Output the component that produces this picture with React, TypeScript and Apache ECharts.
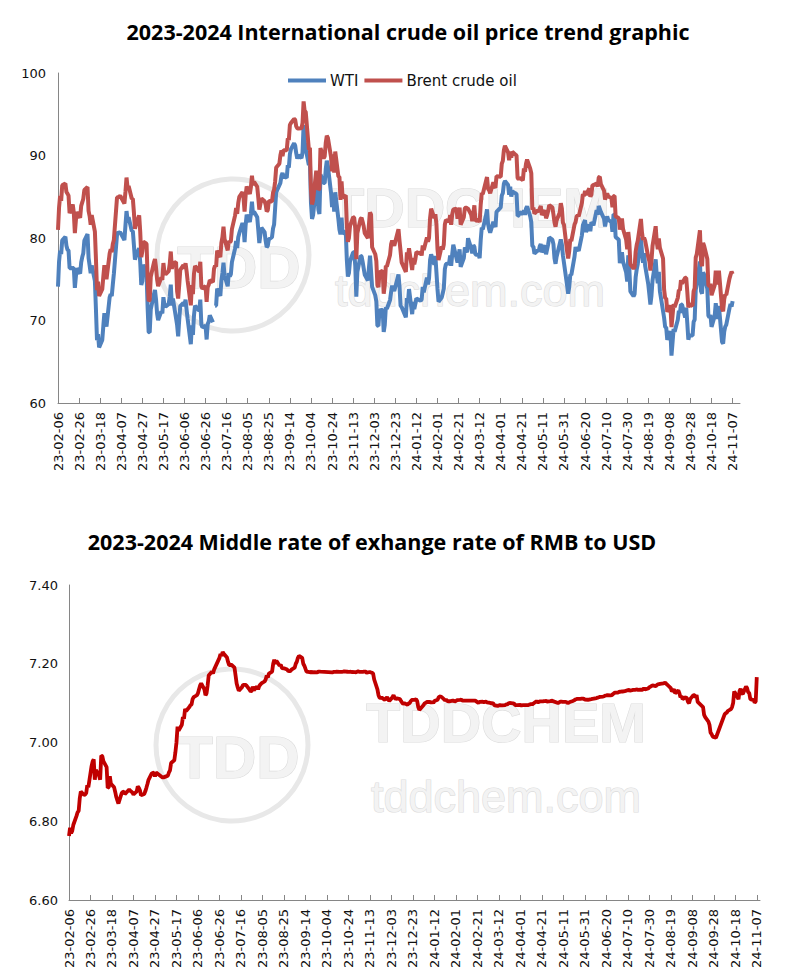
import React, { useEffect, useRef } from 'react';
import * as echarts from 'echarts';

// ---------- categories (calendar days from 23-02-06) ----------
const START_Y = 2023, START_M = 1, START_D = 6; // 2023-02-06 (Monday)
const TOP_DAYS = 648;    // 23-02-06 .. 24-11-14
const BOTTOM_DAYS = 644; // 23-02-06 .. 24-11-10
const LABEL_EVERY = 20;  // a tick label every 20 days

function dayLabel(i: number): string {
  const d = new Date(Date.UTC(START_Y, START_M, START_D + i));
  const yy = String(d.getUTCFullYear()).slice(2);
  const mm = String(d.getUTCMonth() + 1).padStart(2, '0');
  const dd = String(d.getUTCDate()).padStart(2, '0');
  return `${yy}-${mm}-${dd}`;
}
const topDates: string[] = Array.from({ length: TOP_DAYS }, (_, i) => dayLabel(i));
const bottomDates: string[] = Array.from({ length: BOTTOM_DAYS }, (_, i) => dayLabel(i));

// ---------- series values: one row per week, Mon..Fri (null = no quote) ----------
const brentWeeks: (number | null)[][] = [
  [80.99, 83.69, 85.09, 84.50, 86.39],
  [86.61, 85.58, 85.38, 85.14, 83.00],
  [84.07, 83.05, 80.60, 82.21, 83.16],
  [82.45, 83.89, 84.31, 84.75, 85.83],
  [86.18, 83.29, 82.66, 81.59, 82.78],
  [80.77, 77.45, 73.69, 74.70, 72.97],
  [73.79, 75.32, 76.69, 75.91, 74.99],
  [78.12, 78.65, 78.28, 79.27, 79.77],
  [84.93, 84.94, 84.99, 85.12, null],
  [84.18, 85.61, 87.33, 86.09, 86.31],
  [84.76, 84.77, 83.12, 81.10, 81.66],
  [82.73, 80.77, 77.69, 78.37, 79.54],
  [79.31, 75.32, 72.33, 72.50, 75.30],
  [77.01, 77.44, 76.41, 74.98, 74.17],
  [75.23, 74.91, 76.96, 75.86, 75.58],
  [75.99, 76.84, 78.36, 76.26, 76.95],
  [77.07, 73.54, 72.66, 74.28, 76.13],
  [76.71, 76.29, 76.95, 75.96, 74.79],
  [71.84, 74.29, 73.20, 75.67, 76.61],
  [76.09, 75.90, 77.12, 74.14, 73.85],
  [74.18, 72.26, 74.03, 74.34, 74.90],
  [74.65, 76.25, 76.65, 76.52, 78.47],
  [77.69, 79.40, 80.11, 81.36, 79.87],
  [78.50, 79.63, 79.46, 79.64, 81.07],
  [82.74, 83.64, 82.92, 84.24, 84.99],
  [85.56, 84.91, 83.20, 85.14, 86.24],
  [85.34, 86.17, 87.55, 86.40, 86.81],
  [86.21, 84.89, 83.45, 84.12, 84.80],
  [84.46, 84.03, 83.21, 83.36, 84.48],
  [84.42, 85.49, 85.86, 86.86, 88.55],
  [89.00, 90.04, 90.60, 89.92, 90.65],
  [90.64, 92.06, 91.88, 93.70, 93.93],
  [94.43, 94.34, 93.53, 93.30, 93.27],
  [93.29, 93.96, 96.55, 95.38, 95.31],
  [90.71, 90.92, 85.81, 84.07, 84.58],
  [88.15, 87.65, 85.82, 86.00, 90.89],
  [89.65, 89.90, 91.50, 92.38, 92.16],
  [89.83, 88.07, 90.13, 87.93, 90.48],
  [87.45, 87.41, 84.63, 86.85, 84.89],
  [85.18, 81.61, 79.54, 80.01, 81.43],
  [82.52, 82.47, 81.18, 77.42, 80.61],
  [82.32, 82.45, 81.96, 81.42, 80.58],
  [79.98, 81.68, 83.10, 82.83, 78.88],
  [78.03, 77.20, 74.30, 74.05, 75.84],
  [76.03, 73.24, 74.26, 76.61, 76.55],
  [77.95, 79.23, 79.70, 79.39, 79.07],
  [null, 81.07, 79.65, 78.39, 77.04],
  [null, 75.89, 78.25, 77.59, 78.76],
  [76.12, 77.59, 76.80, 77.41, 78.29],
  [78.15, 78.29, 77.88, 79.10, 78.56],
  [80.06, 79.55, 80.04, 82.43, 83.55],
  [82.40, 82.87, 81.71, 78.70, 77.33],
  [78.99, 78.59, 79.21, 81.63, 82.19],
  [82.00, 82.77, 81.60, 82.86, 83.47],
  [83.56, 82.34, 83.03, 83.67, 81.62],
  [82.53, 83.65, 83.68, 83.62, 83.55],
  [82.80, 82.04, 82.96, 83.96, 82.08],
  [82.21, 81.92, 84.03, 85.42, 85.34],
  [86.89, 87.38, 85.95, 85.78, 85.43],
  [86.75, 86.25, 86.09, 87.48, null],
  [87.42, 89.00, 89.35, 90.65, 91.17],
  [90.38, 89.42, 90.48, 89.74, 90.45],
  [90.10, 90.02, 87.29, 87.11, 87.29],
  [87.00, 88.42, 88.02, 89.01, 89.50],
  [88.40, 87.86, 83.44, 83.67, 82.96],
  [83.33, 83.16, 83.58, 83.88, 82.79],
  [83.36, 82.38, 82.75, 83.27, 83.98],
  [83.71, 82.88, 81.90, 81.36, 82.12],
  [83.10, 84.22, 83.60, 81.86, 81.62],
  [78.36, 77.52, 78.41, 79.87, 79.62],
  [81.63, 81.92, 82.60, 82.75, 82.62],
  [84.25, 85.33, 85.07, 85.71, 85.24],
  [86.01, 85.01, 85.25, 86.39, 86.41],
  [86.60, 86.24, 87.34, 87.43, 86.54],
  [85.75, 84.66, 85.08, 85.40, 85.03],
  [84.85, 83.73, 85.08, 85.11, 82.63],
  [82.40, 81.01, 81.71, 82.37, 81.13],
  [79.78, 78.63, 80.72, 79.52, 76.81],
  [76.30, 76.48, 78.33, 79.16, 79.66],
  [82.30, 80.69, 79.76, 80.04, 79.68],
  [77.66, 77.20, 76.05, 77.22, 79.02],
  [81.43, 79.55, 78.65, 79.94, 78.80],
  [77.52, 73.75, 72.70, 72.69, 71.06],
  [71.84, 69.19, 70.61, 71.97, 71.61],
  [72.75, 73.70, 73.65, 74.88, 74.49],
  [75.17, 75.17, 73.46, 71.60, 71.98],
  [71.77, 73.56, 73.90, 77.62, 78.05],
  [80.93, 77.18, 76.58, 79.40, 79.04],
  [77.46, 74.25, 74.22, 74.45, 73.06],
  [74.29, 76.04, 74.96, 74.38, 76.05],
  [71.42, 71.12, 72.55, 73.16, 73.10],
  [75.08, 75.53, 75.92, 75.63],
];

const wtiWeeks: (number | null)[][] = [
  [74.11, 77.14, 78.47, 78.06, 79.72],
  [80.14, 79.06, 78.59, 78.49, 76.34],
  [null, 76.36, 73.95, 75.39, 76.32],
  [75.68, 77.05, 77.69, 78.16, 79.68],
  [80.46, 77.58, 76.66, 75.72, 76.68],
  [74.80, 71.33, 67.61, 68.35, 66.74],
  [67.64, 69.33, 70.90, 69.96, 69.26],
  [72.81, 73.20, 72.97, 74.37, 75.67],
  [80.42, 80.71, 80.61, 80.70, null],
  [79.74, 81.53, 83.26, 82.16, 82.52],
  [80.83, 80.86, 79.16, 77.37, 77.87],
  [78.76, 77.07, 74.30, 74.76, 76.78],
  [75.66, 71.66, 68.60, 68.56, 71.34],
  [73.16, 73.71, 72.56, 70.87, 70.04],
  [71.11, 70.86, 72.83, 71.86, 71.69],
  [71.99, 72.91, 74.34, 71.83, 72.67],
  [null, 69.46, 68.09, 70.10, 71.74],
  [72.15, 71.74, 72.53, 71.29, 70.17],
  [67.12, 69.42, 68.27, 70.62, 71.78],
  [null, 71.19, 72.53, 69.51, 69.16],
  [69.37, 67.70, 69.56, 69.86, 70.64],
  [69.79, null, 71.79, 71.80, 73.86],
  [72.99, 74.83, 75.75, 77.00, 75.42],
  [74.15, 75.75, 75.35, 75.63, 77.07],
  [78.74, 79.63, 78.78, 80.09, 80.58],
  [81.80, 81.37, 79.49, 81.55, 82.82],
  [81.94, 82.92, 84.40, 82.82, 83.19],
  [82.51, 80.99, 79.38, 80.39, 81.25],
  [80.72, 79.64, 78.89, 79.05, 79.83],
  [80.10, 81.16, 81.63, 83.63, 85.55],
  [null, 86.69, 87.54, 87.87, 87.51],
  [87.29, 88.84, 88.52, 90.16, 90.77],
  [91.48, 91.20, 90.28, 89.63, 90.03],
  [89.68, 90.39, 93.68, 91.71, 90.79],
  [88.82, 89.23, 84.22, 82.31, 82.79],
  [86.38, 85.97, 83.49, 82.91, 87.69],
  [86.66, 86.66, 88.32, 89.37, 88.75],
  [85.49, 83.74, 85.39, 83.21, 85.54],
  [82.31, 81.02, 80.44, 82.46, 80.51],
  [80.82, 77.37, 75.33, 75.74, 77.17],
  [78.26, 78.26, 76.66, 72.90, 75.89],
  [77.83, 77.77, 77.10, null, 75.54],
  [74.86, 76.41, 77.86, 75.96, 74.07],
  [73.04, 72.32, 69.38, 69.34, 71.23],
  [71.32, 68.61, 69.47, 71.58, 71.43],
  [72.47, 73.44, 74.22, 73.89, 73.56],
  [null, 75.57, 74.11, 71.77, 71.65],
  [null, 70.38, 72.70, 72.19, 73.81],
  [70.77, 72.24, 71.37, 72.02, 72.68],
  [null, 72.40, 72.56, 74.08, 73.41],
  [75.19, 74.37, 75.09, 77.36, 78.01],
  [76.78, 77.82, 75.85, 73.82, 72.28],
  [72.78, 73.31, 73.86, 76.22, 76.84],
  [76.92, 77.87, 76.64, 78.03, 79.19],
  [null, 77.04, 77.91, 78.61, 76.49],
  [77.58, 78.87, 78.54, 78.26, 79.97],
  [78.74, 78.15, 79.13, 78.93, 78.01],
  [77.93, 77.56, 79.72, 81.26, 81.04],
  [82.72, 83.47, 81.68, 81.07, 80.63],
  [81.95, 81.62, 81.35, 83.17, null],
  [83.71, 85.15, 85.43, 86.59, 86.91],
  [86.43, 85.23, 86.21, 85.02, 85.66],
  [85.41, 85.36, 82.69, 82.73, 83.14],
  [82.90, 83.36, 82.81, 83.57, 83.85],
  [82.63, 81.93, 79.00, 78.95, 78.11],
  [78.48, 78.38, 78.99, 79.26, 78.26],
  [79.12, 78.02, 78.63, 79.23, 80.06],
  [79.80, 79.26, 77.57, 76.87, 77.72],
  [null, 79.83, 79.23, 77.91, 76.99],
  [74.22, 73.25, 74.07, 75.55, 75.53],
  [77.74, 78.90, 78.50, 78.62, 78.45],
  [80.33, 81.57, null, 82.17, 80.73],
  [81.63, 80.83, 81.90, 81.74, 81.54],
  [83.38, 82.81, 83.88, null, 83.16],
  [82.33, 81.41, 82.10, 82.62, 82.21],
  [81.91, 80.76, 82.85, 82.82, 80.13],
  [79.78, 76.96, 77.59, 78.28, 77.16],
  [75.81, 74.73, 77.91, 76.31, 73.52],
  [72.94, 73.20, 75.23, 76.19, 76.84],
  [80.06, 78.35, 76.98, 78.16, 76.65],
  [74.37, 73.17, 71.93, 73.01, 74.83],
  [77.42, 75.53, 74.52, 75.91, 73.55],
  [null, 70.34, 69.20, 69.15, 67.67],
  [68.71, 65.75, 67.31, 68.97, 68.65],
  [70.09, 71.19, 70.91, 71.95, 71.92],
  [70.37, 71.56, 69.69, 67.67, 68.18],
  [68.17, 69.83, 70.10, 73.71, 74.38],
  [77.14, 73.57, 73.24, 75.85, 75.56],
  [73.83, 70.58, 70.39, 70.67, 69.22],
  [70.56, 72.09, 70.77, 70.19, 71.78],
  [67.38, 67.21, 68.61, 69.26, 69.49],
  [71.47, 71.99, 71.69, 72.36],
];
const WTI_GAP_DATE = '23-07-04'; // the WTI line is broken here in the reference

const rmbWeeks: (number | null)[][] = [
  [6.7626, 6.7832, 6.7695, 6.7752, 6.7905],
  [6.8136, 6.8228, 6.8265, 6.8583, 6.8751],
  [6.8667, 6.8681, 6.8714, 6.8916, 6.8862],
  [6.9400, 6.9519, 6.9572, 6.9054, 6.9300],
  [6.9156, 6.9056, 6.9666, 6.9655, 6.9525],
  [6.9375, 6.8849, 6.8865, 6.9142, 6.8953],
  [6.8862, 6.8744, 6.8615, 6.8529, 6.8450],
  [6.8710, 6.8743, 6.8752, 6.8693, 6.8717],
  [6.8805, 6.8774, null, 6.8732, 6.8679],
  [6.8759, 6.8882, 6.8847, 6.8788, 6.8658],
  [6.8692, 6.8760, 6.8849, 6.8947, 6.9052],
  [6.9214, 6.9226, 6.9237, 6.9137, 6.9240],
  [null, null, null, 6.9114, 6.9114],
  [6.9146, 6.9156, 6.9240, 6.9293, 6.9481],
  [6.9550, 6.9750, 7.0000, 7.0400, 7.0300],
  [7.0450, 7.0650, 7.0600, 7.0850, 7.0800],
  [7.0900, 7.0950, 7.0965, 7.1100, 7.1150],
  [7.1200, 7.1250, 7.1350, 7.1450, 7.1500],
  [7.1350, 7.1200, 7.1250, 7.1450, 7.1700],
  [7.1800, 7.1750, 7.1850, null, null],
  [7.2150, 7.2250, 7.2200, 7.2300, 7.2258],
  [7.2157, 7.2046, 7.1968, 7.1968, 7.1980],
  [7.1900, 7.1700, 7.1500, 7.1400, 7.1315],
  [7.1406, 7.1466, 7.1466, 7.1466, 7.1451],
  [7.1340, 7.1300, 7.1310, 7.1420, 7.1330],
  [7.1420, 7.1350, 7.1430, 7.1470, 7.1500],
  [7.1550, 7.1600, 7.1700, 7.1650, 7.1750],
  [7.1800, 7.2000, 7.2100, 7.2000, 7.2076],
  [7.1950, 7.1980, 7.1900, 7.1880, 7.1886],
  [7.1851, 7.1816, 7.1811, 7.1811, 7.1850],
  [7.1900, 7.2000, 7.2050, 7.2150, 7.2200],
  [7.2148, 7.2000, 7.1950, 7.1874, 7.1800],
  [7.1786, 7.1780, 7.1800, 7.1770, 7.1790],
  [7.1780, 7.1800, 7.1800, 7.1798, null],
  [null, null, null, null, null],
  [7.1780, 7.1791, 7.1794, 7.1796, 7.1798],
  [7.1795, 7.1795, 7.1796, 7.1800, 7.1806],
  [7.1797, 7.1793, 7.1794, 7.1797, 7.1790],
  [7.1785, 7.1779, 7.1797, 7.1806, 7.1796],
  [7.1796, 7.1797, 7.1802, 7.1797, 7.1772],
  [7.1790, 7.1780, 7.1770, 7.1750, 7.1600],
  [7.1350, 7.1201, 7.1140, 7.1125, 7.1140],
  [7.1080, 7.1120, 7.1150, 7.1100, 7.1050],
  [7.1150, 7.1200, 7.1140, 7.1100, 7.1120],
  [7.1100, 7.1050, 7.1010, 7.0980, 7.1000],
  [7.0960, 7.0992, 7.1000, 7.1050, 7.1080],
  [7.1090, 7.1100, 7.1050, 7.0900, 7.0827],
  [null, 7.0950, 7.1002, 7.1006, 7.1029],
  [7.1032, 7.1006, 7.1037, 7.1002, 7.1052],
  [7.1087, 7.1148, 7.1168, 7.1167, 7.1149],
  [7.1068, 7.1098, 7.1044, 7.1055, 7.1045],
  [7.1062, 7.1063, 7.1039, 7.1055, 7.1074],
  [7.1082, 7.1094, 7.1061, 7.1064, null],
  [null, null, null, null, null],
  [7.1064, 7.1045, 7.1025, 7.1006, 7.1032],
  [7.1036, 7.1025, 7.1032, 7.1036, 7.1020],
  [7.1004, 7.0994, 7.1001, 7.0985, 7.0942],
  [7.0930, 7.0939, 7.0950, 7.0943, 7.0945],
  [7.0951, 7.0970, 7.0968, 7.0996, 7.1004],
  [7.0994, 7.0996, 7.0956, 7.0948, 7.0950],
  [7.0952, 7.0938, 7.0947, null, null],
  [7.0947, 7.0957, 7.0968, 7.0981, 7.0967],
  [7.1028, 7.1049, 7.1028, 7.1028, 7.1042],
  [7.1043, 7.1049, 7.1052, 7.1055, 7.1038],
  [7.1049, 7.1063, null, null, null],
  [7.1001, 7.1014, 7.1038, 7.1037, 7.1035],
  [7.1030, 7.1028, 7.1002, 7.1011, 7.1030],
  [7.1055, 7.1071, 7.1090, 7.1100, 7.1110],
  [7.1106, 7.1116, 7.1111, 7.1115, 7.1088],
  [7.1086, 7.1089, 7.1097, 7.1102, 7.1108],
  [null, 7.1128, 7.1140, 7.1149, 7.1159],
  [7.1167, 7.1176, 7.1192, 7.1196, 7.1201],
  [7.1196, 7.1201, 7.1225, 7.1249, 7.1268],
  [7.1265, 7.1289, 7.1285, 7.1300, 7.1291],
  [7.1312, 7.1321, 7.1325, 7.1338, 7.1315],
  [7.1335, 7.1335, 7.1335, 7.1350, 7.1339],
  [7.1345, 7.1336, 7.1346, 7.1376, 7.1351],
  [7.1372, 7.1405, 7.1416, 7.1436, 7.1449],
  [7.1430, 7.1460, 7.1478, 7.1484, 7.1490],
  [7.1502, 7.1511, 7.1518, 7.1483, 7.1460],
  [7.1380, 7.1300, 7.1320, 7.1350, 7.1250],
  [7.1320, 7.1250, 7.1150, 7.1180, 7.1100],
  [7.1150, 7.1120, 7.1029, 7.1000, 7.1100],
  [7.1204, 7.1200, 7.1150, 7.1204, 7.1030],
  [null, null, 7.0900, 7.0700, 7.0644],
  [7.0531, 7.0450, 7.0250, 7.0211, 7.0150],
  [7.0120, null, null, null, null],
  [null, 7.0709, 7.0742, 7.0753, 7.0800],
  [7.0850, 7.0900, 7.1001, 7.1300, 7.1250],
  [7.1100, 7.1310, 7.1364, 7.1250, 7.1231],
  [7.1420, 7.1380, 7.1279, 7.1253, 7.1100],
  [7.1077, 7.1016, 7.1034, 7.1659],
];

// ---------- texts ----------
const TITLE_TOP = '2023-2024 International crude oil price trend graphic';
const TITLE_BOTTOM = '2023-2024 Middle rate of exhange rate of RMB to USD';
const NAME_WTI = 'WTI';
const NAME_BRENT = 'Brent crude oil';
const NAME_RMB = 'RMB to USD middle rate';

// place weekly Mon..Fri rows onto the calendar-day categories
function placeOnCalendar(weeks: (number | null)[][], len: number): (number | null)[] {
  const out: (number | null)[] = new Array(len).fill(null);
  weeks.forEach((w, wi) => {
    w.forEach((v, di) => {
      const idx = wi * 7 + di;
      if (idx < len) out[idx] = v;
    });
  });
  return out;
}

const AXIS_COLOR = '#868686';
const LABEL_FONT = '"DejaVu Sans", Verdana, sans-serif';
const TITLE_FONT = '"Open Sans", Lato, sans-serif';

function watermark(cx: number, cy: number, tx: number, ty1: number, ty2: number) {
  const base = { fill: '#f3f3f3', stroke: '#dcdcdc', lineWidth: 1.2, textAlign: 'center', textVerticalAlign: 'middle' };
  return [
    { type: 'circle', silent: true, z: 0, shape: { cx, cy, r: 76 }, style: { fill: 'none', stroke: '#e8e8e8', lineWidth: 5 } },
    { type: 'text', silent: true, z: 0, x: cx + 6, y: cy + 12, style: { ...base, text: 'TDD', fontSize: 60, fontWeight: 'bold', fontFamily: '"Liberation Sans", Arial, sans-serif' } },
    { type: 'text', silent: true, z: 0, x: tx, y: ty1, style: { ...base, text: 'TDDCHEM', fontSize: 56, fontWeight: 'bold', fontFamily: '"Liberation Sans", Arial, sans-serif' } },
    { type: 'text', silent: true, z: 0, x: tx, y: ty2, style: { ...base, text: 'tddchem.com', fontSize: 45, fontFamily: '"Liberation Sans", Arial, sans-serif' } },
  ];
}

export default function App() {
  const ref = useRef<HTMLDivElement>(null);

  useEffect(() => {
    if (!ref.current) return;
    const chart = echarts.init(ref.current, undefined, { renderer: 'svg' });

    const brent = placeOnCalendar(brentWeeks, TOP_DAYS);
    const wti = placeOnCalendar(wtiWeeks, TOP_DAYS);
    const gapIdx = topDates.indexOf(WTI_GAP_DATE);
    const wtiA = wti.map((v, i) => (i < gapIdx ? v : null));
    const wtiB = wti.map((v, i) => (i > gapIdx ? v : null));
    const rmb = placeOnCalendar(rmbWeeks, BOTTOM_DAYS);

    const xAxisCommon = {
      type: 'category',
      boundaryGap: false,
      axisLine: { lineStyle: { color: AXIS_COLOR, width: 1 } },
      axisTick: { show: true, inside: true, length: 5, interval: LABEL_EVERY - 1, lineStyle: { color: AXIS_COLOR } },
      axisLabel: { interval: LABEL_EVERY - 1, rotate: 90, margin: 9, fontSize: 13, fontFamily: LABEL_FONT, color: '#111' },
      splitLine: { show: false },
    };
    const yAxisCommon = {
      type: 'value',
      axisLine: { show: true, lineStyle: { color: AXIS_COLOR, width: 1 } },
      axisTick: { show: false },
      splitLine: { show: false },
    };
    const lineCommon = {
      type: 'line',
      showSymbol: false,
      symbol: 'none',
      connectNulls: true,
      silent: true,
    };

    const option: any = {
      animation: false,
      backgroundColor: '#ffffff',
      graphic: [
        ...watermark(233, 255, 470, 207, 290),
        ...watermark(232, 745, 506, 722, 796),
        { type: 'text', x: 408, y: 31, z: 10, style: { text: TITLE_TOP, fontSize: 21.5, fontWeight: 'bold', fontFamily: TITLE_FONT, fill: '#000', textAlign: 'center', textVerticalAlign: 'middle' } },
        { type: 'text', x: 372, y: 541, z: 10, style: { text: TITLE_BOTTOM, fontSize: 21.5, fontWeight: 'bold', fontFamily: TITLE_FONT, fill: '#000', textAlign: 'center', textVerticalAlign: 'middle' } },
      ],
      legend: {
        data: [NAME_WTI, NAME_BRENT],
        left: 283,
        top: 68,
        icon: 'rect',
        itemWidth: 38,
        itemHeight: 4,
        itemGap: 6,
        textStyle: { fontSize: 15, fontFamily: LABEL_FONT, color: '#111', padding: [0, 0, 0, -1] },
      },
      grid: [
        { left: 58, right: 49, top: 73, height: 330, containLabel: false },
        { left: 69, right: 29, top: 585, height: 315, containLabel: false },
      ],
      xAxis: [
        { ...xAxisCommon, gridIndex: 0, data: topDates },
        { ...xAxisCommon, gridIndex: 1, data: bottomDates },
      ],
      yAxis: [
        { ...yAxisCommon, gridIndex: 0, min: 60, max: 100, interval: 10,
          axisLabel: { margin: 12, fontSize: 13, fontFamily: LABEL_FONT, color: '#111' } },
        { ...yAxisCommon, gridIndex: 1, min: 6.6, max: 7.4, interval: 0.2,
          axisLabel: { margin: 11, fontSize: 13, fontFamily: LABEL_FONT, color: '#111', formatter: (v: number) => v.toFixed(2) } },
      ],
      series: [
        { ...lineCommon, name: NAME_WTI, xAxisIndex: 0, yAxisIndex: 0, data: wtiA,
          lineStyle: { color: '#4F81BD', width: 4 }, itemStyle: { color: '#4F81BD' } },
        { ...lineCommon, name: NAME_WTI, xAxisIndex: 0, yAxisIndex: 0, data: wtiB,
          lineStyle: { color: '#4F81BD', width: 4 }, itemStyle: { color: '#4F81BD' } },
        { ...lineCommon, name: NAME_BRENT, xAxisIndex: 0, yAxisIndex: 0, data: brent,
          lineStyle: { color: '#C0504D', width: 4 }, itemStyle: { color: '#C0504D' } },
        { ...lineCommon, name: NAME_RMB, xAxisIndex: 1, yAxisIndex: 1, data: rmb,
          lineStyle: { color: '#C00000', width: 3.8 }, itemStyle: { color: '#C00000' } },
      ],
    };

    chart.setOption(option);
    return () => chart.dispose();
  }, []);

  return (
    <div
      ref={ref}
      style={{ position: 'absolute', left: 0, top: 0, width: 789, height: 978, background: '#fff' }}
    />
  );
}
